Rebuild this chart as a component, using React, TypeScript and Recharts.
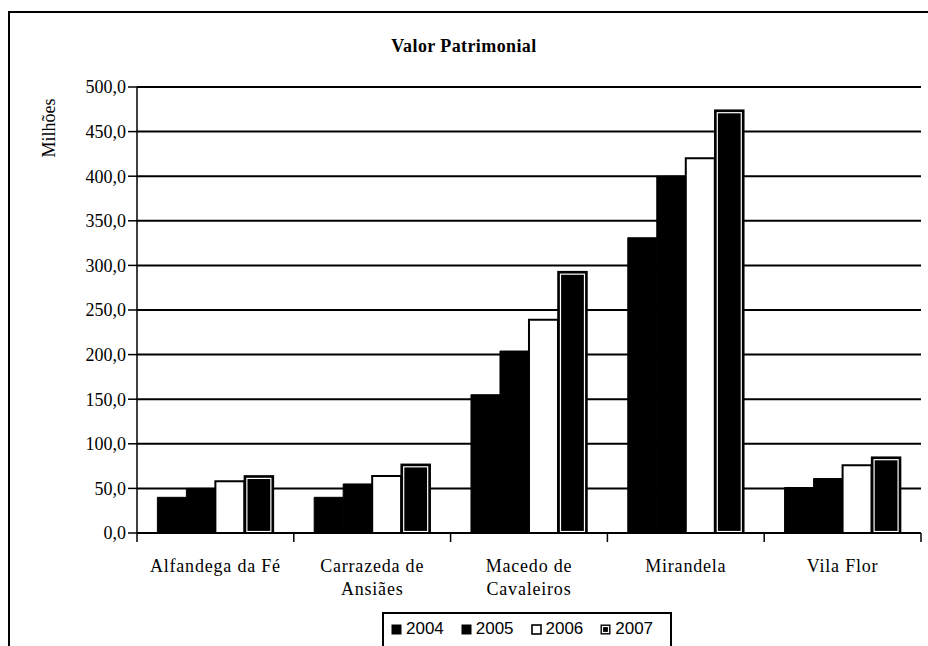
import React from 'react';
import { BarChart, Bar, XAxis, YAxis, CartesianGrid, Legend } from 'recharts';

const categories = ['Alfandega da Fé', 'Carrazeda de Ansiães', 'Macedo de Cavaleiros', 'Mirandela', 'Vila Flor'];
const categoryLines: string[][] = [
  ['Alfandega da Fé'],
  ['Carrazeda de', 'Ansiães'],
  ['Macedo de', 'Cavaleiros'],
  ['Mirandela'],
  ['Vila Flor'],
];
const v2004 = [40, 40, 155, 331, 51];
const v2005 = [50, 55, 204, 400, 61];
const v2006 = [58, 64, 239, 420, 76];
const v2007 = [64, 77, 293, 474, 85];
const yTicks = [0, 50, 100, 150, 200, 250, 300, 350, 400, 450, 500];
const seriesNames = ['2004', '2005', '2006', '2007'];

const data = categories.map((c, i) => ({
  name: c,
  '2004': v2004[i],
  '2005': v2005[i],
  '2006': v2006[i],
  '2007': v2007[i],
}));

const SERIF = "'Liberation Serif', 'Times New Roman', Times, Tinos, 'Noto Serif', 'DejaVu Serif', serif";
const SANS = "'Liberation Sans', Arial, Helvetica, sans-serif";

const fmt = (v: number) => v.toFixed(1).replace('.', ',');

const DoubleBar = (props: any) => {
  const { x, y, width, height } = props;
  if (!height || height <= 0) return null;
  return (
    <g>
      <rect x={x} y={y} width={width} height={height} fill="#000" stroke="#000" strokeWidth={1.5} />
      <rect x={x + 2.5} y={y + 2.5} width={Math.max(0, width - 5)} height={Math.max(0, height - 4)} fill="none" stroke="#fff" strokeWidth={1.2} />
    </g>
  );
};

const XTick = (props: any) => {
  const { x, y, payload, width, index } = props;
  const n = categories.length;
  const half = width / n / 2;
  const lines = categoryLines[index] || [payload.value];
  return (
    <g>
      <line x1={x - half} x2={x - half} y1={y - 8} y2={y + 1} stroke="#000" strokeWidth={1.5} />
      {index === n - 1 && (
        <line x1={x + half} x2={x + half} y1={y - 8} y2={y + 1} stroke="#000" strokeWidth={1.5} />
      )}
      <text x={x} y={y + 31} textAnchor="middle" style={{ fontFamily: SERIF }} fontSize={18} fill="#000" letterSpacing={0.8}>
        {lines.map((l, i) => (
          <tspan key={i} x={x} dy={i === 0 ? 0 : 23}>{l}</tspan>
        ))}
      </text>
    </g>
  );
};

const LegendIcon = ({ name }: { name: string }) => {
  if (name === '2006') {
    return (
      <svg width={11} height={11} style={{ display: 'block' }}>
        <rect x={1} y={1} width={9} height={9} fill="#fff" stroke="#000" strokeWidth={1.6} />
      </svg>
    );
  }
  if (name === '2007') {
    return (
      <svg width={11} height={11} style={{ display: 'block' }}>
        <rect x={0.5} y={0.5} width={10} height={10} fill="#000" />
        <rect x={2.5} y={2.5} width={6} height={6} fill="none" stroke="#fff" strokeWidth={1.2} />
      </svg>
    );
  }
  return (
    <svg width={11} height={11} style={{ display: 'block' }}>
      <rect x={0.5} y={0.5} width={10} height={10} fill="#000" />
    </svg>
  );
};

const LegendContent = (props: any) => {
  const payload = props.payload || [];
  return (
    <div style={{ height: 34, position: 'relative' }}>
      <div
        style={{
          position: 'absolute',
          left: 382,
          top: 0,
          width: 290,
          height: 40,
          boxSizing: 'border-box',
          border: '2px solid #000',
          display: 'flex',
          alignItems: 'center',
          paddingLeft: 7,
          paddingBottom: 6,
        }}
      >
        {payload.map((p: any) => (
          <div key={p.value} style={{ display: 'flex', alignItems: 'center', width: 70 }}>
            <LegendIcon name={String(p.value)} />
            <span style={{ fontFamily: SANS, fontSize: 17, marginLeft: 4, color: '#000' }}>{p.value}</span>
          </div>
        ))}
      </div>
    </div>
  );
};

export default function App() {
  return (
    <div style={{ position: 'absolute', left: 0, top: 0, width: 928, height: 646, overflow: 'hidden', background: '#fff' }}>
      <div style={{ position: 'absolute', left: 8, top: 11, width: 960, height: 700, border: '2px solid #000', boxSizing: 'border-box' }} />
      <div
        style={{
          position: 'absolute',
          left: 0,
          width: 928,
          top: 36,
          textAlign: 'center',
          fontFamily: SERIF,
          fontWeight: 'bold',
          fontSize: 18,
          letterSpacing: 0.4,
          color: '#000',
        }}
      >
        Valor Patrimonial
      </div>
      <div style={{ position: 'absolute', left: 0, top: 0 }}>
        <BarChart
          width={928}
          height={646}
          data={data}
          margin={{ top: 87, right: 7, left: 0, bottom: 0 }}
          barCategoryGap="13%"
          barGap={0}
        >
          <CartesianGrid vertical={false} stroke="#000" strokeWidth={2} />
          <XAxis
            dataKey="name"
            height={79}
            tickLine={false}
            axisLine={{ stroke: '#000', strokeWidth: 2 }}
            tick={<XTick />}
            interval={0}
          />
          <YAxis
            width={137}
            domain={[0, 500]}
            ticks={yTicks}
            tickFormatter={fmt}
            tickSize={9}
            tickLine={{ stroke: '#000', strokeWidth: 1.5 }}
            axisLine={{ stroke: '#000', strokeWidth: 1.5 }}
            tick={{ fill: '#000', fontSize: 18, style: { fontFamily: SERIF } }}
            label={(p: any) => {
              const vb = p.viewBox || { x: 0, y: 87 };
              const cx = vb.x + 49;
              const cy = vb.y + 41;
              return (
                <text x={cx} y={cy} transform={`rotate(-90 ${cx} ${cy})`} textAnchor="middle" dominantBaseline="central" style={{ fontFamily: SERIF }} fontSize={18} fill="#000">
                  Milhões
                </text>
              );
            }}
          />
          <Legend verticalAlign="bottom" height={34} content={<LegendContent />} />
          <Bar dataKey="2004" name={seriesNames[0]} fill="#000" stroke="#000" strokeWidth={1} isAnimationActive={false} />
          <Bar dataKey="2005" name={seriesNames[1]} fill="#000" stroke="#000" strokeWidth={1} isAnimationActive={false} />
          <Bar dataKey="2006" name={seriesNames[2]} fill="#fff" stroke="#000" strokeWidth={2} isAnimationActive={false} />
          <Bar dataKey="2007" name={seriesNames[3]} fill="#000" shape={<DoubleBar />} isAnimationActive={false} />
        </BarChart>
      </div>
    </div>
  );
}
